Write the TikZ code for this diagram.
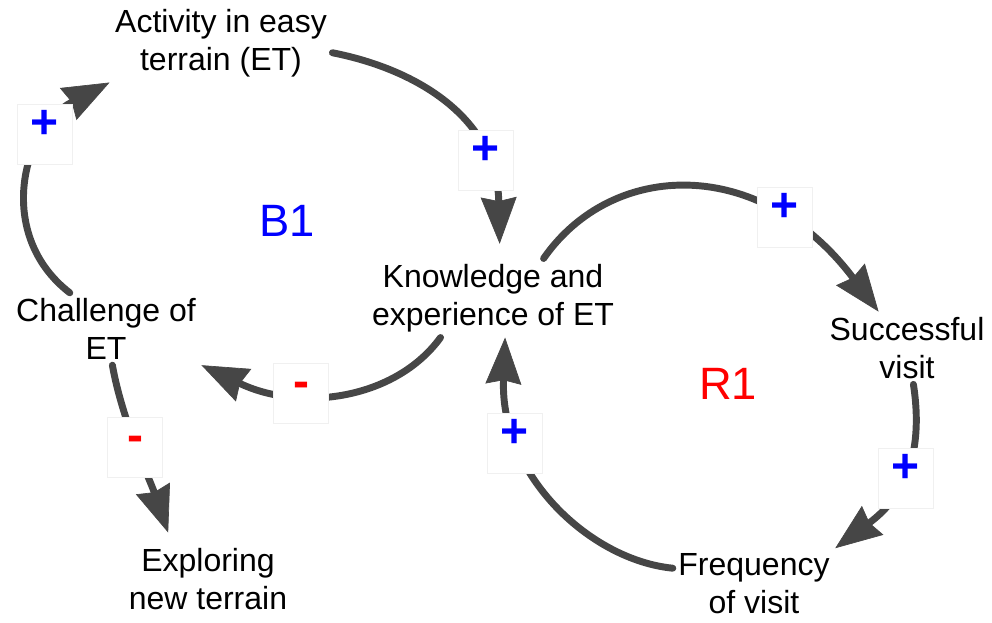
\documentclass[tikz,border=0pt]{standalone}
\usepackage{fontspec}
\setmainfont{Liberation Sans}
\usetikzlibrary{arrows.meta}
\definecolor{linkgray}{RGB}{70,70,70}
\tikzset{concept/.style={align=center,inner sep=4pt,font=\fontsize{24}{28.5}\selectfont},
         loopname/.style={font=\fontsize{34}{40}\selectfont},
         polarity/.style={draw=black!6,fill=white,minimum width=41pt,minimum height=45pt,
                 inner sep=0pt,text height=0.75em,text depth=0.05em,
                 font=\fontsize{36}{40}\selectfont\bfseries},
         link/.style={draw=linkgray,line width=5.2pt,line cap=round,
                 -{Stealth[length=35pt,width=27pt,inset=3pt,line width=0.5pt]}}}

\begin{document}
\begin{tikzpicture}[x=0.75pt,y=-0.75pt]
\useasboundingbox (0,0) rectangle (992,623);
% variables
\node[concept] (act)  at (221,43)  {Activity in easy\\terrain (ET)};
\node[concept] (know) at (493,298) {Knowledge and\\experience of ET};
\node[concept] (chal) at (106,329) {Challenge of\\ET};
\node[concept] (succ) at (907,348) {Successful\\visit};
\node[concept] (expl) at (208,579) {Exploring\\new terrain};
\node[concept] (freq) at (754,584) {Frequency\\of visit};
% loop labels
\node[loopname,text=blue] (b1) at (287,221) {B1};
\node[loopname,text=red]  (r1) at (728,384) {R1};
% causal links
\draw[link] (chal.135) .. controls (-5,235) and (22,128) .. (act.south west);
\draw[link,shorten >=11pt] (act.-5) .. controls (420,70) and (497,120) .. (know.80);
\draw[link] (know.217) .. controls (395,400) and (300,412) .. (chal.south east);
\draw[link] (know.38) .. controls (612,160) and (760,155) .. (succ.128);
\draw[link] (succ.-80) .. controls (925,460) and (900,500) .. (freq.north east);
\draw[link] (freq.169) .. controls (590,560) and (500,475) .. (know.-73);
\draw[link,shorten >=8pt] (chal.-80) .. controls (122,420) and (150,480) .. (expl.135);
% polarities
\node[polarity,text=blue] (p1) at (45,134)  {+};
\node[polarity,text=blue] (p2) at (486,160) {+};
\node[polarity,text=red]  (p3) at (301,393) {-};
\node[polarity,text=blue] (p4) at (785,217) {+};
\node[polarity,text=blue] (p5) at (906,478) {+};
\node[polarity,text=blue] (p6) at (515,443) {+};
\node[polarity,text=red]  (p7) at (135,447) {-};
\end{tikzpicture}
\end{document}
